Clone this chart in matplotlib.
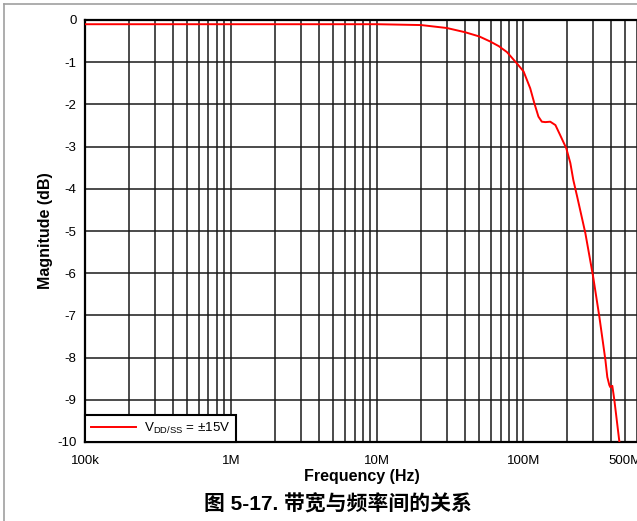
import matplotlib
matplotlib.use("Agg")
import matplotlib.pyplot as plt
from matplotlib.lines import Line2D
from matplotlib.ticker import FixedLocator, LogLocator, NullFormatter

plt.rcParams['font.family'] = ['Liberation Sans', 'Noto Sans CJK SC', 'DejaVu Sans']
plt.rcParams['mathtext.fontset'] = 'custom'
plt.rcParams['mathtext.rm'] = 'Liberation Sans'

freq_hz = [1e5, 3e5, 1e6, 3e6, 1e7, 2e7, 3e7, 4e7, 5e7, 5.94e7, 6.8e7, 7.73e7,
           9.05e7, 1.005e8, 1.116e8, 1.19e8, 1.27e8, 1.34e8, 1.415e8, 1.53e8,
           1.66e8, 1.79e8, 1.97e8, 2.1e8, 2.2e8, 2.34e8, 2.66e8, 3.01e8,
           3.32e8, 3.65e8, 3.76e8, 3.88e8, 3.94e8, 4.07e8, 4.2e8, 4.55e8]
mag_db = [-0.10, -0.10, -0.10, -0.10, -0.10, -0.12, -0.19, -0.29, -0.39, -0.51,
          -0.62, -0.76, -1.03, -1.22, -1.62, -1.97, -2.29, -2.41, -2.42, -2.41,
          -2.49, -2.73, -3.04, -3.39, -3.79, -4.19, -5.05, -6.09, -7.04, -8.06,
          -8.46, -8.65, -8.70, -8.67, -9.0, -10.0]

xtick_vals = [1e5, 1e6, 1e7, 1e8, 5e8]
xtick_text = ["100k", "1M", "10M", "100M", "500M"]
ytick_vals = list(range(0, -11, -1))
legend_label = r"V$_{\mathrm{DD/SS}}$ = ±15V"

fig = plt.figure(figsize=(6.37, 5.21), dpi=100)
ax = fig.add_axes([85/637, 1 - 442/521, 553/637, 422/521])

ax.plot(freq_hz, mag_db, color="#ff0000", lw=1.4, label=legend_label, zorder=3)

ax.set_xscale("log")
ax.set_xlim(1e5, 6.1e8)
ax.set_ylim(-10, 0)

ax.xaxis.set_major_locator(FixedLocator(xtick_vals))
ax.set_xticklabels(xtick_text)
ax.xaxis.set_minor_locator(LogLocator(base=10, subs=range(2, 10), numticks=20))
ax.xaxis.set_minor_formatter(NullFormatter())
ax.set_yticks(ytick_vals)
ax.set_yticklabels([str(v) for v in ytick_vals])

ax.grid(True, which="both", axis="x", color="#1a1a1a", lw=1.1)
ax.grid(True, which="major", axis="y", color="#1a1a1a", lw=1.1)
ax.tick_params(which="both", length=0, labelsize=9.5)
ax.tick_params(axis="x", pad=9)
ax.tick_params(axis="y", pad=6)
for s in ax.spines.values():
    s.set_linewidth(1.6)

ax.set_xlabel("Frequency (Hz)", fontsize=11.5, fontweight="bold", labelpad=2)
ax.set_ylabel("Magnitude (dB)", fontsize=11.5, fontweight="bold", labelpad=3)

leg = ax.legend(loc="lower left", borderaxespad=0, fancybox=False,
                edgecolor="black", framealpha=1, fontsize=9.6,
                handlelength=3.4, handletextpad=0.55, borderpad=0.45)
leg.get_frame().set_linewidth(1.5)

fig.text(338/637, 1 - 504/521, "图 5-17. 带宽与频率间的关系", ha="center", va="center",
         fontsize=15, fontweight="bold")

# page frame (left and top edges)
fig.add_artist(Line2D([4/637, 4/637], [0, 1 - 4/521], color="#a0a0a0", lw=1.2))
fig.add_artist(Line2D([4/637, 1], [1 - 4/521, 1 - 4/521], color="#a0a0a0", lw=1.2))

fig.savefig("out.png", dpi=100)
